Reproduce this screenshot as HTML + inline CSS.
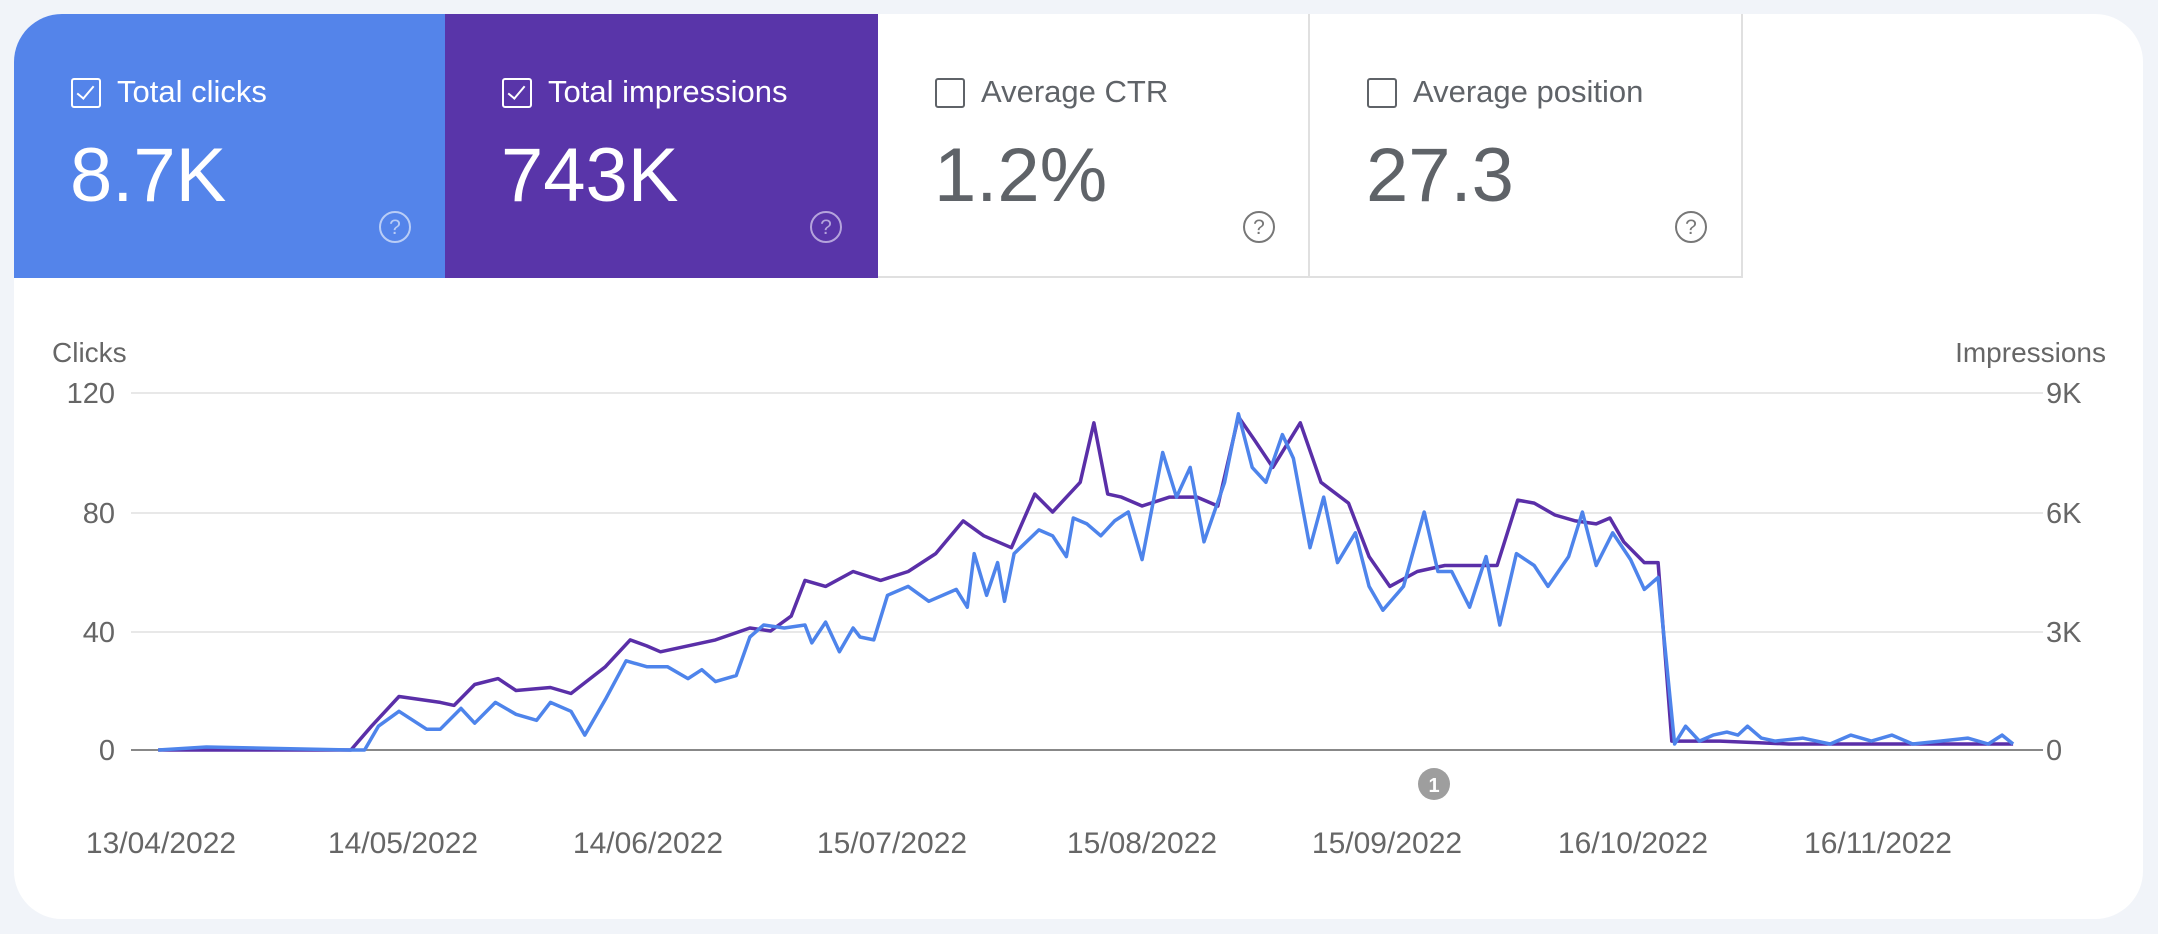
<!DOCTYPE html>
<html><head><meta charset="utf-8"><style>
html,body{margin:0;padding:0;width:2158px;height:934px;background:#f1f4f9;overflow:hidden;font-family:"Liberation Sans",sans-serif}
#card{position:absolute;left:14px;top:14px;width:2129px;height:905px;background:#fff;border-radius:48px;overflow:hidden}
.tile{position:absolute;top:0;height:264px;box-sizing:border-box}
.lbl{position:absolute;left:57px;top:60px;font-size:31px;white-space:nowrap}
.cb{display:inline-block;width:30px;height:30px;border:2px solid;border-radius:3px;vertical-align:-6px;margin-right:16px;position:relative;box-sizing:border-box}
.cb.on::after{content:"";position:absolute;left:8px;top:2px;width:7px;height:15px;border-right:2.5px solid #fff;border-bottom:2.5px solid #fff;transform:rotate(40deg)}
.big{position:absolute;left:56px;top:124px;font-size:76px;line-height:1}
.help{position:absolute;left:365px;top:197px;width:32px;height:32px;border:2px solid;border-radius:50%;box-sizing:border-box;font-size:21px;text-align:center;line-height:29px}
</style></head><body>
<div id="card">
 <div class="tile" style="left:0;width:431px;background:#5484ea;color:#fff">
  <div class="lbl"><span class="cb on" style="border-color:#fff"></span>Total clicks</div>
  <div class="big">8.7K</div><div class="help" style="color:#b9cdf6;border-color:#b9cdf6">?</div></div>
 <div class="tile" style="left:431px;width:433px;background:#5935a9;color:#fff">
  <div class="lbl"><span class="cb on" style="border-color:#fff"></span>Total impressions</div>
  <div class="big">743K</div><div class="help" style="color:#b5a4dc;border-color:#b5a4dc">?</div></div>
 <div class="tile" style="left:864px;width:432px;color:#5f6368;border-bottom:2px solid #e0e0e0;border-right:2px solid #e0e0e0">
  <div class="lbl"><span class="cb" style="border-color:#5f6368"></span>Average CTR</div>
  <div class="big">1.2%</div><div class="help" style="color:#777;border-color:#777">?</div></div>
 <div class="tile" style="left:1296px;width:433px;color:#5f6368;border-bottom:2px solid #e0e0e0;border-right:2px solid #e0e0e0">
  <div class="lbl"><span class="cb" style="border-color:#5f6368"></span>Average position</div>
  <div class="big">27.3</div><div class="help" style="color:#777;border-color:#777">?</div></div>
</div>
<svg id="s" width="2158" height="934" style="position:absolute;left:0;top:0" font-family="Liberation Sans, sans-serif" font-size="28" fill="#666">
 <text x="52" y="362">Clicks</text>
 <text x="2106" y="362" text-anchor="end">Impressions</text>
 <g stroke="#e8e8e8" stroke-width="2"><line x1="131" x2="2043" y1="393" y2="393"/><line x1="131" x2="2043" y1="513" y2="513"/><line x1="131" x2="2043" y1="632" y2="632"/></g>
 <line x1="131" x2="2043" y1="750" y2="750" stroke="#888" stroke-width="2"/>
 <g text-anchor="end" font-size="29"><text x="115" y="403">120</text><text x="115" y="523">80</text><text x="115" y="642">40</text><text x="115" y="760">0</text></g>
 <g font-size="29"><text x="2046" y="403">9K</text><text x="2046" y="523">6K</text><text x="2046" y="642">3K</text><text x="2046" y="760">0</text></g>
 <g text-anchor="middle" font-size="30"><text x="161" y="853">13/04/2022</text><text x="403" y="853">14/05/2022</text><text x="648" y="853">14/06/2022</text><text x="892" y="853">15/07/2022</text><text x="1142" y="853">15/08/2022</text><text x="1387" y="853">15/09/2022</text><text x="1633" y="853">16/10/2022</text><text x="1878" y="853">16/11/2022</text></g>
 <circle cx="1434" cy="784" r="16" fill="#9e9e9e"/><text x="1434" y="792" text-anchor="middle" fill="#fff" font-size="20" font-weight="bold">1</text>
 <polyline id="pp" fill="none" stroke="#5a2fa8" stroke-width="3.5" stroke-linejoin="round"/>
 <polyline id="bp" fill="none" stroke="#4e84eb" stroke-width="3.5" stroke-linejoin="round"/>
</svg>
<script>
var P=[115,0,255,0,270,8,290,18,320,16,330,15,345,22,362,24,375,20,400,21,415,19,440,28,458,37,470,35,480,33,520,37,545,41,560,40,575,45,585,57,600,55,620,60,640,57,660,60,680,66,700,77,715,72,735,68,752,86,765,80,785,90,795,110,805,86,815,85,830,82,850,85,870,85,885,82,900,112,912,104,925,95,945,110,960,90,980,83,995,65,1010,55,1030,60,1050,62,1070,62,1088,62,1103,84,1115,83,1130,79,1145,77,1160,76,1170,78,1180,70,1195,63,1205,63,1215,3,1250,3,1300,2,1350,2,1400,2,1463,2];
var B=[115,0,150,1,255,0,265,0,275,8,290,13,310,7,320,7,335,14,345,9,360,16,375,12,390,10,400,16,415,13,425,5,440,17,455,30,470,28,485,28,500,24,510,27,520,23,535,25,545,38,555,42,570,41,585,42,590,36,600,43,610,33,620,41,625,38,635,37,645,52,660,55,675,50,695,54,703,48,708,66,717,52,725,63,730,50,737,66,755,74,765,72,775,65,780,78,790,76,800,72,810,77,820,80,830,64,845,100,855,85,865,95,875,70,890,90,900,113,910,95,920,90,932,106,940,98,952,68,962,85,972,63,985,73,995,55,1005,47,1020,55,1035,80,1045,60,1055,60,1068,48,1080,65,1090,42,1102,66,1115,62,1125,55,1140,65,1150,80,1160,62,1172,73,1185,64,1195,54,1205,58,1217,2,1225,8,1235,3,1245,5,1255,6,1263,5,1270,8,1280,4,1290,3,1310,4,1330,2,1345,5,1360,3,1375,5,1390,2,1410,3,1430,4,1445,2,1455,5,1463,2];
function pts(a){var s=[];for(var i=0;i<a.length;i+=2){var x=a[i]*1.376,v=a[i+1];s.push(x.toFixed(1)+","+(750-v*2.975).toFixed(1));}return s.join(" ");}
document.getElementById("pp").setAttribute("points",pts(P));
document.getElementById("bp").setAttribute("points",pts(B));
</script>
</body></html>
